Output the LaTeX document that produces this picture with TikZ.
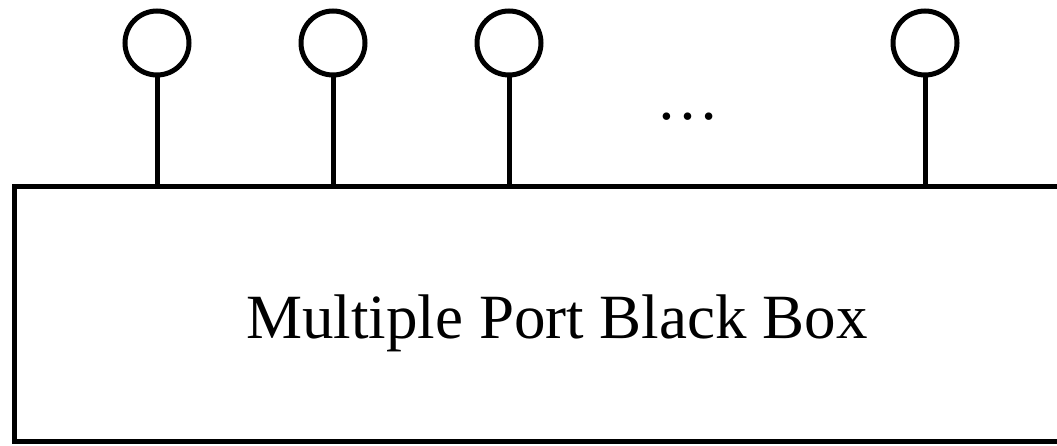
\documentclass[tikz,border=0pt]{standalone}
\usepackage{fontspec}
\setmainfont{Liberation Serif}
\usetikzlibrary{positioning}

\begin{document}
\begin{tikzpicture}[x=1pt, y=1pt,
    port/.style = {circle, draw, line width=5pt, minimum size=64pt, inner sep=0pt},
    blackbox/.style = {rectangle, draw, line width=5pt, minimum width=1086pt, minimum height=254pt,
        text height=62pt, font=\fontsize{63}{75}\selectfont}]
\useasboundingbox (0,0) rectangle (1057,445);
%box
\node[blackbox] (bbox) at (557,131) {Multiple Port Black Box};
%ports
\foreach \n/\x in {1/157,2/333,3/509,4/925}
{
   \node[port] (p\n) at (\x,402) {};
   \draw[line width=5pt] (p\n.south) -- (p\n.south |- bbox.north);
}
%dots between the ports
\node[font=\fontsize{63}{75}\selectfont] (dots) at (688,328) {\dots};
\end{tikzpicture}
\end{document}
